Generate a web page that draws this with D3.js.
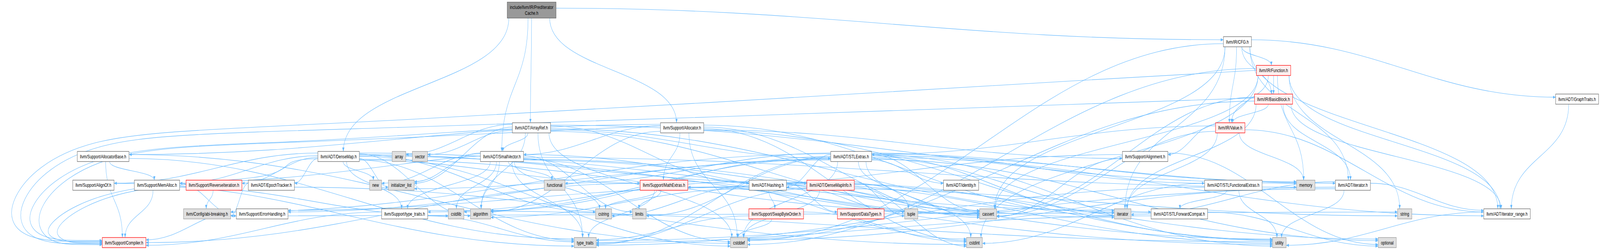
<!DOCTYPE html>
<html>
<head>
<meta charset="utf-8">
<title>include/llvm/IR/PredIteratorCache.h</title>
<script src="https://d3js.org/d3.v7.min.js"></script>
<style>
  html, body { margin: 0; background: #ffffff; overflow: hidden; }
  svg text { font-family: "Liberation Sans", Arial, Helvetica, sans-serif; font-size: 13.33px; fill: #000; }
</style>
</head>
<body>
<div id="graph"></div>
<script>
// nodes of the include graph: key, label, kind, rank (row) and layout position along the row
const nodeKeys = ["pic","cfg","func","bb","graph","aref","alloc","value",
  "abase","dmap","array","vector","svec","stlx","align",
  "alignof","memalloc","reviter","epoch","new","initl","functional","math","hash","dminfo","identity","stlfe","memory","iterh",
  "abi","errh","ttraitsh","cstdlib","algorithm","cstring","limits","swap","dtypes","tuple","cassert","iterator","stlfc","string","irange",
  "compiler","ttraits","cstddef","cstdint","utility","optional"];

const nodeLabels = ["include/llvm/IR/PredIterator|Cache.h","llvm/IR/CFG.h","llvm/IR/Function.h","llvm/IR/BasicBlock.h","llvm/ADT/GraphTraits.h",
  "llvm/ADT/ArrayRef.h","llvm/Support/Allocator.h","llvm/IR/Value.h",
  "llvm/Support/AllocatorBase.h","llvm/ADT/DenseMap.h","array","vector","llvm/ADT/SmallVector.h","llvm/ADT/STLExtras.h","llvm/Support/Alignment.h",
  "llvm/Support/AlignOf.h","llvm/Support/MemAlloc.h","llvm/Support/ReverseIteration.h","llvm/ADT/EpochTracker.h","new","initializer_list",
  "functional","llvm/Support/MathExtras.h","llvm/ADT/Hashing.h","llvm/ADT/DenseMapInfo.h","llvm/ADT/identity.h","llvm/ADT/STLFunctionalExtras.h",
  "memory","llvm/ADT/iterator.h",
  "llvm/Config/abi-breaking.h","llvm/Support/ErrorHandling.h","llvm/Support/type_traits.h","cstdlib","algorithm","cstring","limits",
  "llvm/Support/SwapByteOrder.h","llvm/Support/DataTypes.h","tuple","cassert","iterator","llvm/ADT/STLForwardCompat.h","string","llvm/ADT/iterator_range.h",
  "llvm/Support/Compiler.h","type_traits","cstddef","cstdint","utility","optional"];

// root = the documented file, file = project header, trunc = header with hidden includes, sys = system header
const nodeKinds = ["root","file","trunc","trunc","file","file","file","trunc",
  "file","file","sys","sys","file","file","file",
  "file","file","trunc","file","sys","sys","sys","trunc","file","trunc","file","file","sys","file",
  "sys","file","file","sys","sys","sys","sys","trunc","trunc","sys","sys","sys","file","sys","file",
  "trunc","sys","sys","sys","sys","sys"];

const nodeRanks = [0,1,2,3,3,4,4,4,
  5,5,5,5,5,5,5,
  6,6,6,6,6,6,6,6,6,6,6,6,6,6,
  7,7,7,7,7,7,7,7,7,7,7,7,7,7,7,
  8,8,8,8,8,8];

const nodePos = [1964,4571.5,4705,4705,5826.5,1963.5,2520,4545,
  381,1251,1474,1551.5,1854.5,3144.5,4230.5,
  345,580,790.5,1002.5,1387.5,1482.5,2049,2453,2836.5,3068.5,3550.5,4556.5,4824,4998,
  765,968.5,1495,1685,1775.5,2230,2362,2867.5,3180,3366.5,3650.5,4147.5,4357,5189.5,5567.5,
  458.5,2162,2730,3600,4726.5,5125];

// who includes what
const includes = [
  ["pic", ["aref","dmap","svec","cfg","alloc"]],
  ["cfg", ["graph","iterh","irange","bb","func","value","cassert","cstddef","iterator"]],
  ["func", ["irange","bb","value","compiler","cassert","cstddef","cstdint","memory","string"]],
  ["bb", ["iterh","irange","value","compiler","cassert","cstddef","iterator"]],
  ["value", ["stlx","irange","align","cassert","iterator","memory"]],
  ["graph", ["irange"]],
  ["aref", ["hash","svec","stlx","compiler","algorithm","array","cassert","cstddef","initl","iterator","memory","ttraits","vector"]],
  ["alloc", ["svec","align","abase","compiler","math","algorithm","cassert","cstddef","cstdint","iterator","utility"]],
  ["dmap", ["dminfo","epoch","alignof","compiler","math","memalloc","reviter","ttraitsh","algorithm","cassert","cstddef","cstring","initl","iterator","new","ttraits","utility"]],
  ["svec", ["compiler","ttraitsh","algorithm","cassert","cstddef","cstdlib","cstring","functional","initl","iterator","limits","memory","new","ttraits","utility"]],
  ["stlx", ["hash","stlfc","stlfe","identity","iterh","irange","abi","errh","algorithm","cassert","cstddef","cstdint","cstdlib","functional","initl","iterator","limits","memory","optional","tuple","ttraits","utility"]],
  ["align", ["math","cassert","optional"]],
  ["abase", ["compiler","memalloc","cstddef","ttraits"]],
  ["alignof", ["ttraits"]],
  ["memalloc", ["compiler","errh","cstdlib"]],
  ["reviter", ["abi"]],
  ["epoch", ["abi","cstdint"]],
  ["errh", ["compiler","string"]],
  ["ttraitsh", ["compiler","ttraits","utility"]],
  ["math", ["compiler","cassert","cstdint","cstring","limits","ttraits"]],
  ["hash", ["dtypes","errh","swap","ttraitsh","algorithm","cassert","cstring","optional","string","tuple","utility"]],
  ["dminfo", ["cassert","cstddef","cstdint","tuple","ttraits","utility"]],
  ["swap", ["cstddef","cstdint","ttraits"]],
  ["stlfe", ["stlfc","cstdint","ttraits","utility"]],
  ["stlfc", ["optional","ttraits"]],
  ["iterh", ["irange","cstddef","iterator","ttraits","utility"]],
  ["irange", ["utility"]]
];

const W = 5911, H = 641;
const EDGE = "#63b8ff";
const fills = {root: "#999999", file: "#ffffff", trunc: "#fff0f0", sys: "#e0e0e0"};
const strokes = {root: "#666666", file: "#666666", trunc: "#ff0000", sys: "#999999"};

// the window may be narrower than the graph, so the whole drawing is fitted into it
const svg = d3.select("#graph").append("svg")
  .attr("width", window.innerWidth || W).attr("height", window.innerHeight || H)
  .attr("viewBox", `0 0 ${W} ${H}`)
  .attr("preserveAspectRatio", "none")
  .style("display", "block").style("background", "#fff");

const x = d3.scaleLinear().domain([0, W]).range([0, W]);
const y = d3.scaleLinear().domain([1, 8]).range([107, 622]);
const boxH = 26, rootH = 41, pad = 20;

svg.append("defs").append("marker")
  .attr("id", "arr").attr("viewBox", "0 0 10 8")
  .attr("refX", 10).attr("refY", 4)
  .attr("markerWidth", 10).attr("markerHeight", 8)
  .attr("markerUnits", "userSpaceOnUse").attr("orient", "auto")
  .append("path").attr("d", "M0,0L10,4L0,8Z").attr("fill", EDGE);

const gEdges = svg.append("g");
const gNodes = svg.append("g");

const nodes = nodeKeys.map((k, i) => ({
  key: k, label: nodeLabels[i], kind: nodeKinds[i], rank: nodeRanks[i], pos: nodePos[i]
}));
const byKey = new Map(nodes.map(n => [n.key, n]));

const ng = gNodes.selectAll("g.node").data(nodes).join("g").attr("class", "node");
ng.append("rect");
ng.each(function (d) {
  const g = d3.select(this);
  const lines = d.label.split("|");
  let maxW = 0;
  d.texts = lines.map(l => {
    const t = g.append("text").attr("text-anchor", "middle").text(l);
    maxW = Math.max(maxW, t.node().getComputedTextLength());
    return t;
  });
  d.w = maxW + pad;
  d.h = lines.length > 1 ? rootH : boxH;
  d.cx = x(d.pos);
  d.cy = d.rank === 0 ? y(0) + boxH / 2 - d.h / 2 : y(d.rank);
  d.left = d.cx - d.w / 2; d.right = d.cx + d.w / 2;
  d.top = d.cy - d.h / 2; d.bottom = d.cy + d.h / 2;
  g.select("rect")
    .attr("x", d.left).attr("y", d.top).attr("width", d.w).attr("height", d.h)
    .attr("fill", fills[d.kind]).attr("stroke", strokes[d.kind]).attr("stroke-width", 1.3);
  d.texts.forEach((t, i) => {
    t.attr("x", d.cx).attr("y", d.cy + (i - (lines.length - 1) / 2) * 15 + 4.6);
  });
});

const edges = [];
includes.forEach(([src, targets]) => {
  targets.forEach(dst => edges.push({s: byKey.get(src), t: byKey.get(dst)}));
});

const clamp = (v, lo, hi) => Math.max(lo, Math.min(hi, v));
const spread = [0, -5, 5, -9, 9, -2, 2, -7, 7];
const outSide = {}, inSide = {}, inTop = {};
let loops = 0;
const basis = d3.line().curve(d3.curveBasis);

function edgePath(e) {
  const s = e.s, t = e.t;
  const dx = t.cx - s.cx;
  const gap = t.top - s.bottom;
  // long edges that swing round the left edge of the picture
  if (t.cx < 700 && s.cx - t.cx > 700 && t.rank - s.rank >= 3) {
    const k = loops++;
    const yA = s.cy + spread[k % 9] * 0.6;
    const yRun = Math.max(yA + 20, 330) + k * 9;
    const xl = 6 + k * 34;
    const yIn = t.cy + spread[(inSide[t.key] = (inSide[t.key] || 0) + 1) % 9] * 0.6;
    return basis([
      [s.left, yA], [s.left - 120, yA + 3],
      [t.right + 500, yRun], [xl + 260, yRun + 8],
      [xl, (yRun + t.cy) / 2 + 40], [xl + 60, yIn - 2],
      [t.left - 80, yIn], [t.left, yIn]
    ]);
  }
  const p = d3.path();
  if (Math.abs(dx) > 3 * gap + s.w / 2) {
    const sg = Math.sign(dx);
    const ko = (outSide[s.key] = (outSide[s.key] || 0) + 1);
    const ki = (inSide[t.key] = (inSide[t.key] || 0) + 1);
    const x0 = s.cx + sg * s.w / 2, y0 = s.cy + spread[ko % 9];
    const x3 = t.cx - sg * t.w / 2, y3 = t.cy + spread[ki % 9];
    p.moveTo(x0, y0);
    p.bezierCurveTo(x0 + (x3 - x0) * 0.4, y0, x3 - (x3 - x0) * 0.4, y3, x3, y3);
  } else {
    const ki = (inTop[t.key] = (inTop[t.key] || 0) + 1);
    const x0 = s.cx + clamp(dx * 0.12, -(s.w / 2 - 6), s.w / 2 - 6);
    const x3 = t.cx + clamp(-dx * 0.03 + ((ki % 5) - 2) * 4, -(t.w / 2 - 5), t.w / 2 - 5);
    const y0 = s.bottom, y3 = t.top;
    const m = (y3 - y0) * 0.5;
    p.moveTo(x0, y0);
    p.bezierCurveTo(x0, y0 + m, x3, y3 - m, x3, y3);
  }
  return p.toString();
}

gEdges.selectAll("path").data(edges).join("path")
  .attr("d", edgePath)
  .attr("fill", "none")
  .attr("stroke", EDGE)
  .attr("stroke-width", 1.1)
  .attr("marker-end", "url(#arr)");
</script>
</body>
</html>
